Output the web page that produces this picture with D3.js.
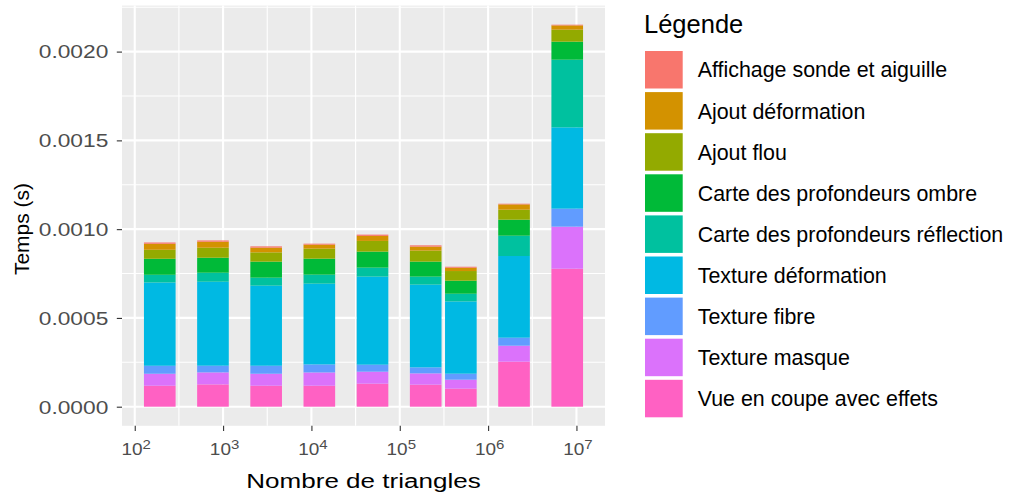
<!DOCTYPE html>
<html>
<head>
<meta charset="utf-8">
<script src="https://cdn.jsdelivr.net/npm/d3@7"></script>
<style>
  body { margin: 0; background: #ffffff; }
  text { font-family: "Liberation Sans", Arial, Helvetica, sans-serif; }
</style>
</head>
<body>
<svg id="chart" width="1010" height="497"></svg>
<script>
// Number of triangles of each mesh
const triangles = [192, 768, 3072, 12288, 49152, 196608, 491520, 1966080, 7864320];

// Legend order (top of legend = top of stack)
const seriesNames = [
  "Affichage sonde et aiguille",
  "Ajout déformation",
  "Ajout flou",
  "Carte des profondeurs ombre",
  "Carte des profondeurs réflection",
  "Texture déformation",
  "Texture fibre",
  "Texture masque",
  "Vue en coupe avec effets"
];

// Time per step (seconds), one value per mesh
const affichageSonde   = [0.0000073, 0.0000073, 0.0000073, 0.0000056, 0.0000073, 0.0000073, 0.0000056, 0.0000039, 0.0000039];
const ajoutDeformation = [0.0000338, 0.0000338, 0.0000265, 0.0000225, 0.0000282, 0.0000225, 0.0000186, 0.0000299, 0.0000242];
const ajoutFlou        = [0.0000507, 0.0000563, 0.0000524, 0.0000563, 0.0000603, 0.0000620, 0.0000546, 0.0000563, 0.0000676];
const carteOmbre       = [0.0000901, 0.0000845, 0.0000901, 0.0000901, 0.0000901, 0.0000845, 0.0000732, 0.0000901, 0.0001014];
const carteReflection  = [0.0000434, 0.0000507, 0.0000451, 0.0000507, 0.0000507, 0.0000451, 0.0000434, 0.0001144, 0.0003810];
const textureDeform    = [0.0004690, 0.0004730, 0.0004510, 0.0004550, 0.0004960, 0.0004660, 0.0004070, 0.0004600, 0.0004580];
const textureFibre     = [0.0000450, 0.0000377, 0.0000451, 0.0000451, 0.0000394, 0.0000338, 0.0000338, 0.0000451, 0.0001014];
const textureMasque    = [0.0000676, 0.0000676, 0.0000676, 0.0000749, 0.0000676, 0.0000637, 0.0000507, 0.0000901, 0.0002370];
const vueCoupe         = [0.0001180, 0.0001256, 0.0001180, 0.0001180, 0.0001296, 0.0001240, 0.0001014, 0.0002535, 0.0007770];

const seriesValues = [affichageSonde, ajoutDeformation, ajoutFlou, carteOmbre, carteReflection,
                      textureDeform, textureFibre, textureMasque, vueCoupe];

const yTickValues = [0, 0.0005, 0.001, 0.0015, 0.002];
const xTickExponents = [2, 3, 4, 5, 6, 7];

const palette = ["#F8766D", "#D39200", "#93AA00", "#00BA38", "#00C19F",
                 "#00B9E3", "#619CFF", "#DB72FB", "#FF61C3"];

// ---------- layout ----------
const svg = d3.select("#chart");
const panel = { left: 122, right: 605, top: 5.6, bottom: 425.8 };
const FONT = "Liberation Sans, Arial, sans-serif";

// ---------- data table ----------
const rows = triangles.map((n, i) => {
  const r = { n };
  seriesNames.forEach((s, k) => { r[s] = seriesValues[k][i]; });
  return r;
});
const stackKeys = seriesNames.slice().reverse(); // bottom of stack first
const stacked = d3.stack().keys(stackKeys)(rows);
const color = d3.scaleOrdinal().domain(seriesNames).range(palette);

// ---------- scales ----------
const logs = triangles.map(Math.log10);
let minGap = Infinity;
for (let i = 1; i < logs.length; i++) minGap = Math.min(minGap, logs[i] - logs[i - 1]);
const halfW = 0.45 * minGap;                     // bar width = 90% of smallest spacing (log space)
const lo = d3.min(logs) - halfW, hi = d3.max(logs) + halfW;
const xPad = 0.05 * (hi - lo);
const x = d3.scaleLog()
  .domain([Math.pow(10, lo - xPad), Math.pow(10, hi + xPad)])
  .range([panel.left, panel.right]);

const maxTotal = d3.max(rows, r => d3.sum(seriesNames, s => r[s]));
const y = d3.scaleLinear()
  .domain([-0.05 * maxTotal, 1.05 * maxTotal])
  .range([panel.bottom, panel.top]);

// ---------- panel background & grid ----------
svg.append("rect")
  .attr("x", panel.left).attr("y", panel.top)
  .attr("width", panel.right - panel.left).attr("height", panel.bottom - panel.top)
  .attr("fill", "#EBEBEB");

const grid = svg.append("g");
const [yLo, yHi] = y.domain();
const yMinor = d3.range(-0.00025, 0.0025, 0.0005).filter(v => v > yLo && v < yHi);
const [dLo, dHi] = x.domain().map(Math.log10);
const xMinor = d3.range(1.5, 8, 1).filter(v => v > dLo && v < dHi);

grid.selectAll(".ymin").data(yMinor).join("line")
  .attr("x1", panel.left).attr("x2", panel.right)
  .attr("y1", d => y(d)).attr("y2", d => y(d))
  .attr("stroke", "#ffffff").attr("stroke-width", 1.1);
grid.selectAll(".xmin").data(xMinor).join("line")
  .attr("y1", panel.top).attr("y2", panel.bottom)
  .attr("x1", d => x(Math.pow(10, d))).attr("x2", d => x(Math.pow(10, d)))
  .attr("stroke", "#ffffff").attr("stroke-width", 1.1);
grid.selectAll(".ymaj").data(yTickValues).join("line")
  .attr("x1", panel.left).attr("x2", panel.right)
  .attr("y1", d => y(d)).attr("y2", d => y(d))
  .attr("stroke", "#ffffff").attr("stroke-width", 2.1);
grid.selectAll(".xmaj").data(xTickExponents).join("line")
  .attr("y1", panel.top).attr("y2", panel.bottom)
  .attr("x1", d => x(Math.pow(10, d))).attr("x2", d => x(Math.pow(10, d)))
  .attr("stroke", "#ffffff").attr("stroke-width", 2.1);

// ---------- stacked bars ----------
const barX0 = n => x(Math.pow(10, Math.log10(n) - halfW));
const barX1 = n => x(Math.pow(10, Math.log10(n) + halfW));
svg.append("g").selectAll("g").data(stacked).join("g")
  .attr("fill", d => color(d.key))
  .selectAll("rect").data(d => d).join("rect")
  .attr("x", d => barX0(d.data.n))
  .attr("width", d => barX1(d.data.n) - barX0(d.data.n))
  .attr("y", d => y(d[1]))
  .attr("height", d => y(d[0]) - y(d[1]));

// ---------- axes ----------
const yAxis = svg.append("g")
  .attr("transform", `translate(${panel.left},0)`)
  .call(d3.axisLeft(y).tickValues(yTickValues).tickFormat(d3.format(".4f")).tickSize(5.2));
yAxis.select(".domain").remove();
yAxis.selectAll(".tick line").attr("stroke", "#333333").attr("stroke-width", 1.1);
yAxis.selectAll(".tick text")
  .attr("x", 0).attr("dy", "0.36em")
  .attr("transform", "translate(-13.7,0) scale(1.3,1)")
  .attr("fill", "#4D4D4D").attr("font-size", 17.5).attr("font-family", FONT);

const xAxis = svg.append("g")
  .attr("transform", `translate(0,${panel.bottom})`)
  .call(d3.axisBottom(x).tickValues(xTickExponents.map(e => Math.pow(10, e))).tickFormat("").tickSize(5.2));
xAxis.select(".domain").remove();
xAxis.selectAll(".tick line").attr("stroke", "#333333").attr("stroke-width", 1.1);
xAxis.selectAll(".tick").each(function (d) {
  const t = d3.select(this).append("text")
    .attr("transform", "translate(1,29.3) scale(1.2,1)")
    .attr("text-anchor", "middle")
    .attr("fill", "#4D4D4D").attr("font-size", 15.8).attr("font-family", FONT);
  t.append("tspan").text("10");
  t.append("tspan").attr("dy", -6.5).attr("font-size", 12.5).text(String(Math.round(Math.log10(d))));
});

// axis titles
svg.append("text")
  .attr("transform", `translate(${(panel.left + panel.right) / 2},488) scale(1.24,1)`)
  .attr("text-anchor", "middle").attr("font-size", 21).attr("fill", "#000")
  .text("Nombre de triangles");
svg.append("text")
  .attr("transform", `translate(28.5,229) rotate(-90)`)
  .attr("text-anchor", "middle").attr("font-size", 21).attr("fill", "#000")
  .text("Temps (s)");

// ---------- legend ----------
const legend = svg.append("g").attr("transform", "translate(644,0)");
legend.append("text").attr("x", 0).attr("y", 33.3).attr("font-size", 25.5).attr("fill", "#000")
  .text("Légende");
const item = legend.selectAll(".item").data(seriesNames).join("g")
  .attr("transform", (d, i) => `translate(0,${51 + i * 41.1})`);
item.append("rect").attr("x", 1).attr("y", 0).attr("width", 37.7).attr("height", 37.5)
  .attr("fill", d => color(d));
item.append("text").attr("x", 53.7).attr("y", 18.75).attr("dy", "0.36em")
  .attr("font-size", 21.4).attr("fill", "#000").text(d => d);
</script>
</body>
</html>
